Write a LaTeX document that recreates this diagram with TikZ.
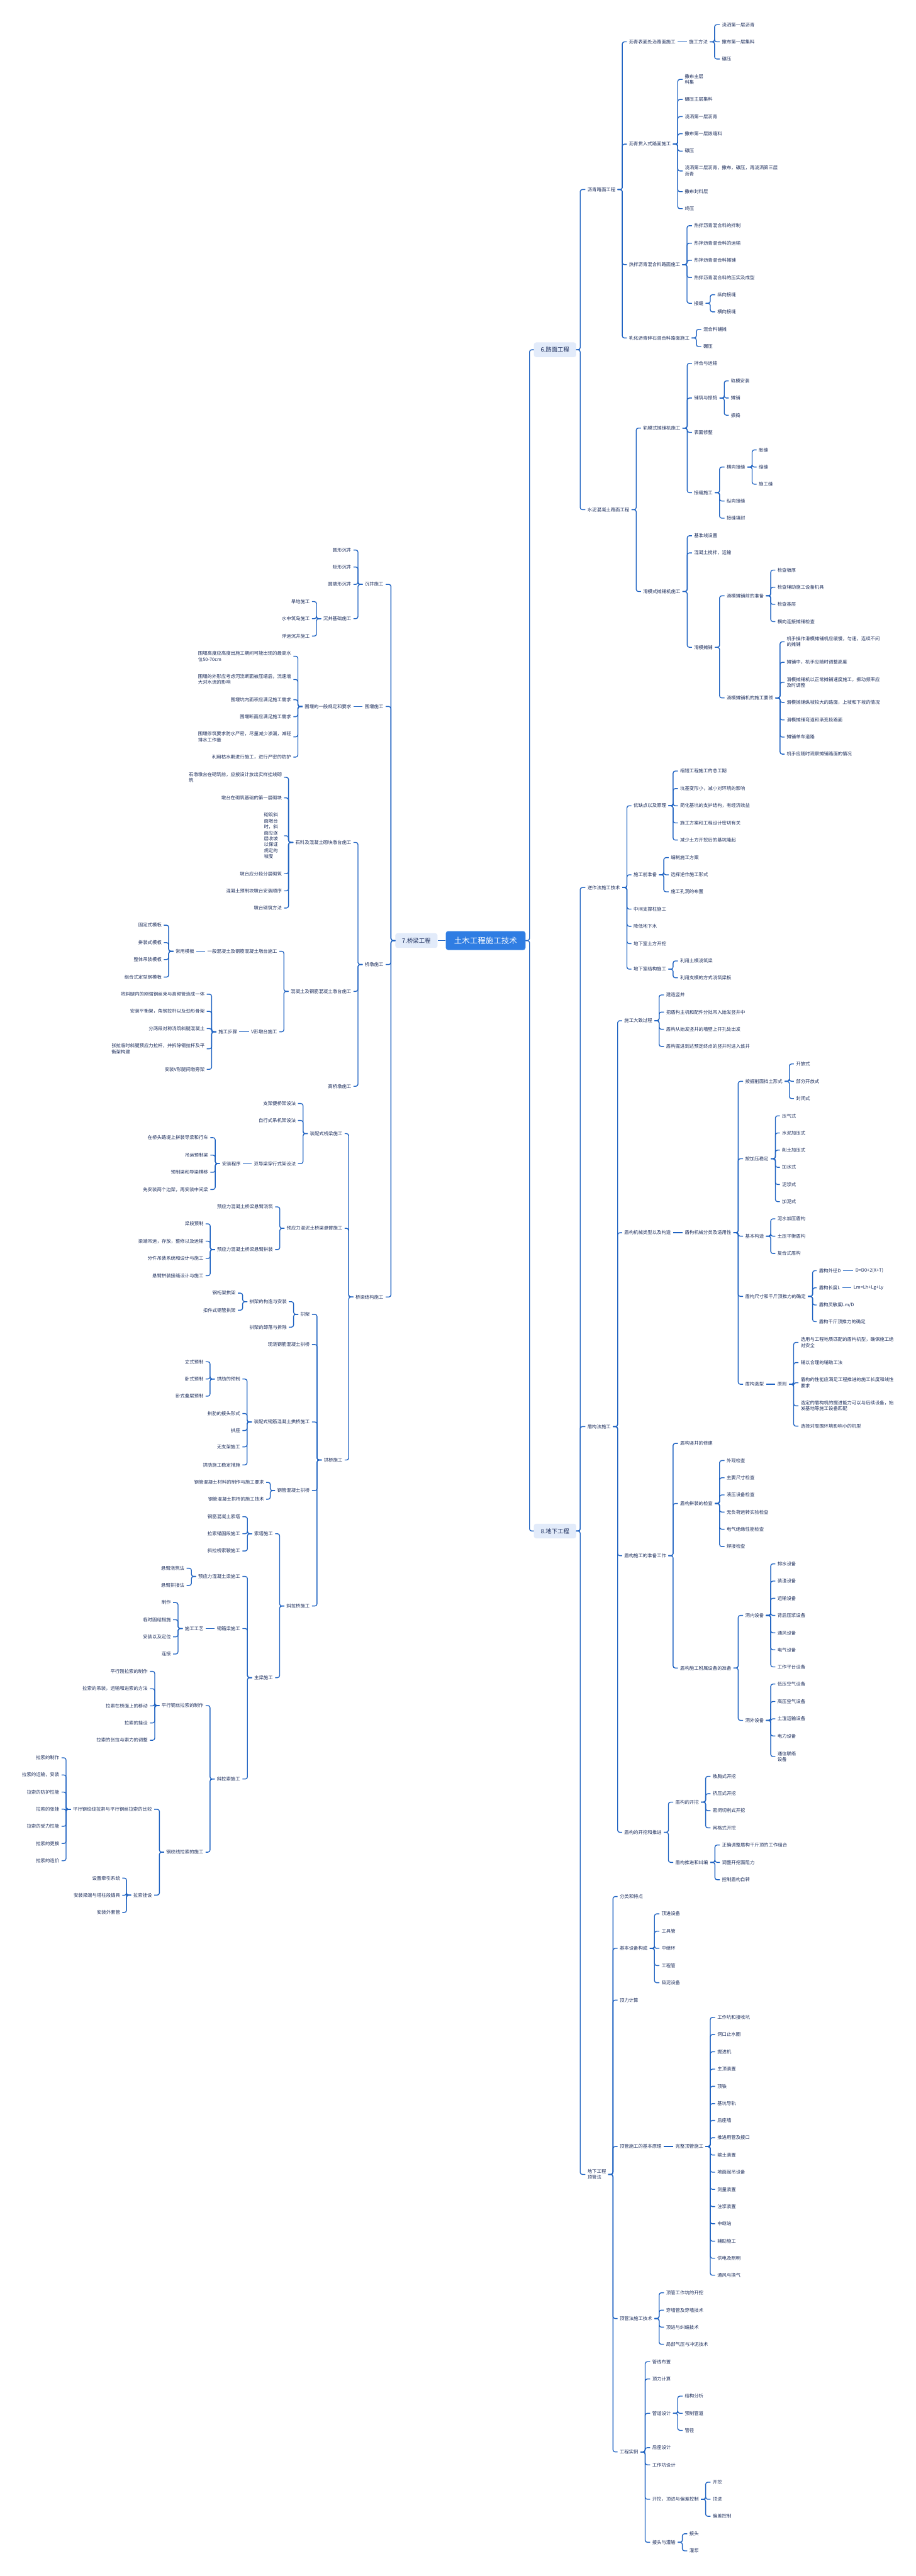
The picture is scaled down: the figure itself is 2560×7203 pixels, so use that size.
\documentclass[tikz,border=0pt]{standalone}
\usepackage{fontspec}
\setmainfont{Noto Sans CJK SC}
\definecolor{linkblue}{HTML}{1F63C2}
\definecolor{txtblue}{HTML}{1C2D5C}
\definecolor{rootblue}{HTML}{2F7DE3}
\definecolor{mainfill}{HTML}{E2EBFA}

\begin{document}
\begin{tikzpicture}[x=1pt, y=-1pt,
    txt/.style={inner xsep=6pt, inner ysep=1pt, text=txtblue, align=left, font=\fontsize{13}{16.5}\selectfont},
    rt/.style={txt, anchor=west, xshift=-6pt},
    lt/.style={txt, anchor=east, xshift=6pt},
    root/.style={fill=rootblue, text=white, rounded corners=7pt, minimum width=223pt, minimum height=53pt, font=\fontsize{22}{26}\selectfont},
    main/.style={fill=mainfill, text=txtblue, rounded corners=6pt, minimum width=118pt, minimum height=41pt, font=\fontsize{16.5}{20}\selectfont},
    link/.style={draw=linkblue, line width=2.4pt, rounded corners=6pt}]
\fill[white] (0,0) rectangle (2560,7203);
\useasboundingbox (0,0) rectangle (2560,7203);

\node[root] (R) at (1357.5,2630) {土木工程施工技术};
\node[main] (L) at (1551.5,978) {6.路面工程};
\node[main] (Q) at (1164,2630) {7.桥梁工程};
\node[main] (D) at (1551.5,4281) {8.地下工程};

% 6.路面工程
\node[rt] (L_1) at (1642,530) {沥青路面工程};
\node[rt] (L_1_1) at (1758,117) {沥青表面处治路面施工};
\node[rt] (L_1_1_1) at (1926,117) {施工方法};
\node[rt] (L_1_1_1_1) at (2018,69) {浇洒第一层沥青};
\node[rt] (L_1_1_1_2) at (2018,117) {撒布第一层集料};
\node[rt] (L_1_1_1_3) at (2018,165) {碾压};
\node[rt] (L_1_2) at (1758,403) {沥青贯入式路面施工};
\node[rt] (L_1_2_1) at (1914,222) {撒布主层\\料集};
\node[rt] (L_1_2_2) at (1914,278) {碾压主层集料};
\node[rt] (L_1_2_3) at (1914,326) {浇洒第一层沥青};
\node[rt] (L_1_2_4) at (1914,374) {撒布第一层嵌缝料};
\node[rt] (L_1_2_5) at (1914,422.5) {碾压};
\node[rt] (L_1_2_6) at (1914,478) {浇洒第二层沥青，撒布，碾压，再浇洒第三层\\沥青};
\node[rt] (L_1_2_7) at (1914,536) {撒布封料层};
\node[rt] (L_1_2_8) at (1914,583.5) {终压};
\node[rt] (L_1_3) at (1758,740) {热拌沥青混合料路面施工};
\node[rt] (L_1_3_1) at (1940,631) {热拌沥青混合料的拌制};
\node[rt] (L_1_3_2) at (1940,680) {热拌沥青混合料的运输};
\node[rt] (L_1_3_3) at (1940,728) {热拌沥青混合料摊铺};
\node[rt] (L_1_3_4) at (1940,776) {热拌沥青混合料的压实及成型};
\node[rt] (L_1_3_5) at (1940,848) {接缝};
\node[rt] (L_1_3_5_1) at (2005,824) {纵向接缝};
\node[rt] (L_1_3_5_2) at (2005,872) {横向接缝};
\node[rt] (L_1_4) at (1758,945) {乳化沥青碎石混合料路面施工};
\node[rt] (L_1_4_1) at (1966,921) {混合料铺摊};
\node[rt] (L_1_4_2) at (1966,969) {碾压};
\node[rt] (L_2) at (1642,1425) {水泥混凝土路面工程};
\node[rt] (L_2_1) at (1797.5,1197) {轨模式摊铺机施工};
\node[rt] (L_2_1_1) at (1940,1016) {拌合与运输};
\node[rt] (L_2_1_2) at (1940,1113) {铺筑与振捣};
\node[rt] (L_2_1_2_1) at (2043,1065) {轨模安装};
\node[rt] (L_2_1_2_2) at (2043,1113) {摊铺};
\node[rt] (L_2_1_2_3) at (2043,1161) {振捣};
\node[rt] (L_2_1_3) at (1940,1209) {表面修整};
\node[rt] (L_2_1_4) at (1940,1377.5) {接缝施工};
\node[rt] (L_2_1_4_1) at (2031,1306) {横向接缝};
\node[rt] (L_2_1_4_1_1) at (2121,1258) {胀缝};
\node[rt] (L_2_1_4_1_2) at (2121,1306) {缩缝};
\node[rt] (L_2_1_4_1_3) at (2121,1354) {施工缝};
\node[rt] (L_2_1_4_2) at (2031,1401) {纵向接缝};
\node[rt] (L_2_1_4_3) at (2031,1449) {接缝填封};
\node[rt] (L_2_2) at (1797.5,1654) {滑模式摊铺机施工};
\node[rt] (L_2_2_1) at (1940,1498) {基准线设置};
\node[rt] (L_2_2_2) at (1940,1546) {混凝土搅拌，运输};
\node[rt] (L_2_2_3) at (1940,1810) {滑模摊铺};
\node[rt] (L_2_2_3_1) at (2031,1666) {滑模摊铺前的准备};
\node[rt] (L_2_2_3_1_1) at (2173,1594) {检查板厚};
\node[rt] (L_2_2_3_1_2) at (2173,1642) {检查辅助施工设备机具};
\node[rt] (L_2_2_3_1_3) at (2173,1690) {检查基层};
\node[rt] (L_2_2_3_1_4) at (2173,1738) {横向连接摊铺检查};
\node[rt] (L_2_2_3_2) at (2031,1951.5) {滑模摊铺机的施工要领};
\node[rt] (L_2_2_3_2_1) at (2199,1794.5) {机手操作滑模摊铺机应缓慢，匀速，连续不间\\的摊铺};
\node[rt] (L_2_2_3_2_2) at (2199,1852) {摊铺中，机手应随时调整高度};
\node[rt] (L_2_2_3_2_3) at (2199,1908) {滑模摊铺机以正常摊铺速度施工，振动频率应\\及时调整};
\node[rt] (L_2_2_3_2_4) at (2199,1964) {滑模摊铺纵坡较大的路面，上坡和下坡的情况};
\node[rt] (L_2_2_3_2_5) at (2199,2013) {滑模摊铺弯道和渐变段路面};
\node[rt] (L_2_2_3_2_6) at (2199,2061) {摊铺单车道路};
\node[rt] (L_2_2_3_2_7) at (2199,2108.6) {机手应随时观察摊铺路面的情况};

% 8.地下工程
\node[rt] (D_1) at (1642,2481.7) {逆作法施工技术};
\node[rt] (D_1_1) at (1771,2253) {优缺点以及原理};
\node[rt] (D_1_1_1) at (1901,2156) {缩短工程施工的总工期};
\node[rt] (D_1_1_2) at (1901,2205) {坑基变形小，减小对环境的影响};
\node[rt] (D_1_1_3) at (1901,2253) {简化基坑的支护结构，有经济效益};
\node[rt] (D_1_1_4) at (1901,2301) {施工方案和工程设计密切有关};
\node[rt] (D_1_1_5) at (1901,2349) {减少土方开挖后的基坑隆起};
\node[rt] (D_1_2) at (1771,2446) {施工前准备};
\node[rt] (D_1_2_1) at (1875,2398) {编制施工方案};
\node[rt] (D_1_2_2) at (1875,2446) {选择逆作施工形式};
\node[rt] (D_1_2_3) at (1875,2493.6) {施工孔洞的布置};
\node[rt] (D_1_3) at (1771,2542) {中间支撑柱施工};
\node[rt] (D_1_4) at (1771,2590) {降低地下水};
\node[rt] (D_1_5) at (1771,2638.5) {地下室土方开挖};
\node[rt] (D_1_6) at (1771,2710) {地下室结构施工};
\node[rt] (D_1_6_1) at (1901,2687) {利用土模浇筑梁};
\node[rt] (D_1_6_2) at (1901,2734) {利用支模的方式浇筑梁板};
\node[rt] (D_2) at (1642,3989) {盾构法施工};
\node[rt] (D_2_1) at (1745,2854) {施工大致过程};
\node[rt] (D_2_1_1) at (1862,2782) {建造竖井};
\node[rt] (D_2_1_2) at (1862,2830) {把盾构主机和配件分批吊入始发竖井中};
\node[rt] (D_2_1_3) at (1862,2878) {盾构从始发竖井的墙壁上开孔处出发};
\node[rt] (D_2_1_4) at (1862,2926) {盾构掘进到达预定终点的竖井时进入该井};
\node[rt] (D_2_2) at (1745,3447) {盾构机械类型以及构造};
\node[rt] (D_2_2_1) at (1914,3447) {盾构机械分类及适用性};
\node[rt] (D_2_2_1_1) at (2083,3023.5) {按掘削面挡土形式};
\node[rt] (D_2_2_1_1_1) at (2225,2975) {开放式};
\node[rt] (D_2_2_1_1_2) at (2225,3023.5) {部分开放式};
\node[rt] (D_2_2_1_1_3) at (2225,3071.7) {封闭式};
\node[rt] (D_2_2_1_2) at (2083,3240) {按加压稳定};
\node[rt] (D_2_2_1_2_1) at (2186,3120) {压气式};
\node[rt] (D_2_2_1_2_2) at (2186,3168) {水泥加压式};
\node[rt] (D_2_2_1_2_3) at (2186,3216) {削土加压式};
\node[rt] (D_2_2_1_2_4) at (2186,3264) {加水式};
\node[rt] (D_2_2_1_2_5) at (2186,3312) {泥浆式};
\node[rt] (D_2_2_1_2_6) at (2186,3360) {加泥式};
\node[rt] (D_2_2_1_3) at (2083,3456.6) {基本构造};
\node[rt] (D_2_2_1_3_1) at (2173,3408) {泥水加压盾构};
\node[rt] (D_2_2_1_3_2) at (2173,3456.6) {土压平衡盾构};
\node[rt] (D_2_2_1_3_3) at (2173,3505) {复合式盾构};
\node[rt] (D_2_2_1_4) at (2083,3625) {盾构尺寸和千斤顶推力的确定};
\node[rt] (D_2_2_1_4_1) at (2289,3553) {盾构外径D};
\node[rt] (D_2_2_1_4_1_1) at (2391,3553) {D=D0+2(X+T)};
\node[rt] (D_2_2_1_4_2) at (2289,3601) {盾构长度L};
\node[rt] (D_2_2_1_4_2_1) at (2386,3601) {Lm=Lh+Lg+Ly};
\node[rt] (D_2_2_1_4_3) at (2289,3649) {盾构灵敏度Lm/D};
\node[rt] (D_2_2_1_4_4) at (2289,3695.5) {盾构千斤顶推力的确定};
\node[rt] (D_2_2_1_5) at (2083,3870.7) {盾构选型};
\node[rt] (D_2_2_1_5_1) at (2173,3870.7) {原则};
\node[rt] (D_2_2_1_5_1_1) at (2238,3753.6) {选用与工程地质匹配的盾构机型，确保施工绝\\对安全};
\node[rt] (D_2_2_1_5_1_2) at (2238,3810) {辅以合理的辅助工法};
\node[rt] (D_2_2_1_5_1_3) at (2238,3866.5) {盾构的性能应满足工程推进的施工长度和线性\\要求};
\node[rt] (D_2_2_1_5_1_4) at (2238,3931) {选定的盾构机的掘进能力可以与后续设备，始\\发基地等施工设备匹配};
\node[rt] (D_2_2_1_5_1_5) at (2238,3987.7) {选择对周围环境影响小的机型};
\node[rt] (D_2_3) at (1745,4350) {盾构施工的准备工作};
\node[rt] (D_2_3_1) at (1901,4036) {盾构竖井的修建};
\node[rt] (D_2_3_2) at (1901,4204) {盾构拼装的检查};
\node[rt] (D_2_3_2_1) at (2031,4084) {外观检查};
\node[rt] (D_2_3_2_2) at (2031,4132) {主要尺寸检查};
\node[rt] (D_2_3_2_3) at (2031,4180) {液压设备检查};
\node[rt] (D_2_3_2_4) at (2031,4228) {无负荷运转实验检查};
\node[rt] (D_2_3_2_5) at (2031,4276) {电气绝缘性能检查};
\node[rt] (D_2_3_2_6) at (2031,4324.5) {焊接检查};
\node[rt] (D_2_3_3) at (1901,4664) {盾构施工附属设备的准备};
\node[rt] (D_2_3_3_1) at (2083,4517) {洞内设备};
\node[rt] (D_2_3_3_1_1) at (2173,4372.7) {排水设备};
\node[rt] (D_2_3_3_1_2) at (2173,4421) {装渣设备};
\node[rt] (D_2_3_3_1_3) at (2173,4469) {运输设备};
\node[rt] (D_2_3_3_1_4) at (2173,4517) {背后压浆设备};
\node[rt] (D_2_3_3_1_5) at (2173,4565.6) {通风设备};
\node[rt] (D_2_3_3_1_6) at (2173,4613) {电气设备};
\node[rt] (D_2_3_3_1_7) at (2173,4661) {工作平台设备};
\node[rt] (D_2_3_3_2) at (2083,4810.5) {洞外设备};
\node[rt] (D_2_3_3_2_1) at (2173,4709) {低压空气设备};
\node[rt] (D_2_3_3_2_2) at (2173,4757.6) {高压空气设备};
\node[rt] (D_2_3_3_2_3) at (2173,4806) {土渣运输设备};
\node[rt] (D_2_3_3_2_4) at (2173,4854) {电力设备};
\node[rt] (D_2_3_3_2_5) at (2173,4911.5) {通信联络\\设备};
\node[rt] (D_2_4) at (1745,5123.5) {盾构的开挖和推进};
\node[rt] (D_2_4_1) at (1888,5039) {盾构的开挖};
\node[rt] (D_2_4_1_1) at (1992,4967) {敞胸式开挖};
\node[rt] (D_2_4_1_2) at (1992,5015.6) {挤压式开挖};
\node[rt] (D_2_4_1_3) at (1992,5063) {密闭切削式开挖};
\node[rt] (D_2_4_1_4) at (1992,5111) {网格式开挖};
\node[rt] (D_2_4_2) at (1888,5207.6) {盾构推进和纠编};
\node[rt] (D_2_4_2_1) at (2018,5159) {正确调整盾构千斤顶的工作组合};
\node[rt] (D_2_4_2_2) at (2018,5207.6) {调整开挖面阻力};
\node[rt] (D_2_4_2_3) at (2018,5256) {控制盾构自转};
\node[rt] (D_3) at (1642,6080) {地下工程\\顶管法};
\node[rt] (D_3_1) at (1732,5303) {分类和特点};
\node[rt] (D_3_2) at (1732,5448) {基本设备构成};
\node[rt] (D_3_2_1) at (1849,5351.5) {顶进设备};
\node[rt] (D_3_2_2) at (1849,5400) {工具管};
\node[rt] (D_3_2_3) at (1849,5448) {中继环};
\node[rt] (D_3_2_4) at (1849,5496) {工程管};
\node[rt] (D_3_2_5) at (1849,5544) {吸泥设备};
\node[rt] (D_3_3) at (1732,5592.6) {顶力计算};
\node[rt] (D_3_4) at (1732,6002) {顶管施工的基本原理};
\node[rt] (D_3_4_1) at (1888,6002) {完整顶管施工};
\node[rt] (D_3_4_1_1) at (2005,5641) {工作坑和接收坑};
\node[rt] (D_3_4_1_2) at (2005,5689) {洞口止水圈};
\node[rt] (D_3_4_1_3) at (2005,5737) {掘进机};
\node[rt] (D_3_4_1_4) at (2005,5785.5) {主顶装置};
\node[rt] (D_3_4_1_5) at (2005,5833.7) {顶铁};
\node[rt] (D_3_4_1_6) at (2005,5882) {基坑导轨};
\node[rt] (D_3_4_1_7) at (2005,5929) {后座墙};
\node[rt] (D_3_4_1_8) at (2005,5977.5) {推进用管及接口};
\node[rt] (D_3_4_1_9) at (2005,6025.7) {输土装置};
\node[rt] (D_3_4_1_10) at (2005,6074) {地面起吊设备};
\node[rt] (D_3_4_1_11) at (2005,6121.8) {测量装置};
\node[rt] (D_3_4_1_12) at (2005,6170) {注浆装置};
\node[rt] (D_3_4_1_13) at (2005,6218) {中继站};
\node[rt] (D_3_4_1_14) at (2005,6266.7) {辅助施工};
\node[rt] (D_3_4_1_15) at (2005,6314.5) {供电及照明};
\node[rt] (D_3_4_1_16) at (2005,6362) {通风与换气};
\node[rt] (D_3_5) at (1732,6483) {顶管法施工技术};
\node[rt] (D_3_5_1) at (1862,6411) {顶管工作坑的开挖};
\node[rt] (D_3_5_2) at (1862,6459.4) {穿墙管及穿墙技术};
\node[rt] (D_3_5_3) at (1862,6507) {顶进与纠编技术};
\node[rt] (D_3_5_4) at (1862,6555) {局部气压与冲泥技术};
\node[rt] (D_3_6) at (1732,6856) {工程实例};
\node[rt] (D_3_6_1) at (1823,6603.6) {管线布置};
\node[rt] (D_3_6_2) at (1823,6652) {顶力计算};
\node[rt] (D_3_6_3) at (1823,6748) {管道设计};
\node[rt] (D_3_6_3_1) at (1914,6700) {结构分析};
\node[rt] (D_3_6_3_2) at (1914,6748) {预制管道};
\node[rt] (D_3_6_3_3) at (1914,6795.7) {管径};
\node[rt] (D_3_6_4) at (1823,6844) {后座设计};
\node[rt] (D_3_6_5) at (1823,6892) {工作坑设计};
\node[rt] (D_3_6_6) at (1823,6988.4) {开挖，顶进与偏差控制};
\node[rt] (D_3_6_6_1) at (1992,6940.6) {开挖};
\node[rt] (D_3_6_6_2) at (1992,6988.4) {顶进};
\node[rt] (D_3_6_6_3) at (1992,7036) {偏差控制};
\node[rt] (D_3_6_7) at (1823,7108.7) {接头与灌输};
\node[rt] (D_3_6_7_1) at (1927,7084.8) {接头};
\node[rt] (D_3_6_7_2) at (1927,7132.6) {灌浆};

% 7.桥梁工程
\node[lt] (Q_1) at (1072,1634) {沉井施工};
\node[lt] (Q_1_1) at (982,1538) {圆形沉井};
\node[lt] (Q_1_2) at (982,1585.5) {矩形沉井};
\node[lt] (Q_1_3) at (982,1634) {圆端形沉井};
\node[lt] (Q_1_4) at (982,1730) {沉井基础施工};
\node[lt] (Q_1_4_1) at (866,1682) {旱地施工};
\node[lt] (Q_1_4_2) at (866,1730) {水中筑岛施工};
\node[lt] (Q_1_4_3) at (866,1778.6) {浮运沉井施工};
\node[lt] (Q_2) at (1072,1975.5) {围堰施工};
\node[lt] (Q_2_1) at (982,1975.5) {围堰的一般规定和要求};
\node[lt] (Q_2_1_1) at (814,1835) {围堰高度应高度出施工期间可能出现的最高水\\位50-70cm};
\node[lt] (Q_2_1_2) at (814,1900) {围堰的外形应考虑河流断面被压缩后，流速增\\大对水流的影响};
\node[lt] (Q_2_1_3) at (814,1956.5) {围堰坑内面积应满足施工需求};
\node[lt] (Q_2_1_4) at (814,2004) {围堰断面应满足施工需求};
\node[lt] (Q_2_1_5) at (814,2060.5) {围堰修筑要求防水严密，尽量减少渗漏，减轻\\排水工作量};
\node[lt] (Q_2_1_6) at (814,2117) {利用枯水期进行施工，进行严密的防护};
\node[lt] (Q_3) at (1072,2697) {桥墩施工};
\node[lt] (Q_3_1) at (982,2355.5) {石料及混凝土砌块墩台施工};
\node[lt] (Q_3_1_1) at (788,2173.6) {石墩墩台在砌筑前，应按设计放出实样挂线砌\\筑};
\node[lt] (Q_3_1_2) at (788,2231) {墩台在砌筑基础的第一层砌块};
\node[lt, text width=50pt] (Q_3_1_3) at (788,2337) {砌筑斜\\面墩台\\时，斜\\面应逐\\层收坡\\以保证\\规定的\\坡度};
\node[lt] (Q_3_1_4) at (788,2443) {墩台应分段分层砌筑};
\node[lt] (Q_3_1_5) at (788,2491) {混凝土预制块墩台安装顺序};
\node[lt] (Q_3_1_6) at (788,2539) {墩台砌筑方法};
\node[lt] (Q_3_2) at (982,2772) {混凝土及钢筋混凝土墩台施工};
\node[lt] (Q_3_2_1) at (775,2660) {一般混凝土及钢筋混凝土墩台施工};
\node[lt] (Q_3_2_1_1) at (543,2660) {常用模板};
\node[lt] (Q_3_2_1_1_1) at (452,2587) {固定式模板};
\node[lt] (Q_3_2_1_1_2) at (452,2635.7) {拼装式模板};
\node[lt] (Q_3_2_1_1_3) at (452,2683) {整体吊装模板};
\node[lt] (Q_3_2_1_1_4) at (452,2732) {组合式定型钢模板};
\node[lt] (Q_3_2_2) at (775,2885) {V形墩台施工};
\node[lt] (Q_3_2_2_1) at (663,2885) {施工步骤};
\node[lt] (Q_3_2_2_1_1) at (572,2780) {将斜腿内的刚强钢丝束与高频管连成一体};
\node[lt] (Q_3_2_2_1_2) at (572,2828) {安装平衡架，角钢拉杆以及劲形骨架};
\node[lt] (Q_3_2_2_1_3) at (572,2876) {分两段对称浇筑斜腿混凝土};
\node[lt] (Q_3_2_2_1_4) at (572,2932.5) {张拉临时斜腿预应力拉杆，并拆除钢拉杆及平\\衡架构建};
\node[lt] (Q_3_2_2_1_5) at (572,2990) {安装V形腿间墩旁架};
\node[lt] (Q_3_3) at (982,3037.4) {高桥墩施工};
\node[lt] (Q_4) at (1072,3626.6) {桥梁结构施工};
\node[lt] (Q_4_1) at (957.5,3169.7) {装配式桥梁施工};
\node[lt] (Q_4_1_1) at (827,3085.6) {支架便桥架设法};
\node[lt] (Q_4_1_2) at (827,3133) {自行式吊机架设法};
\node[lt] (Q_4_1_3) at (827,3253.7) {双导梁穿行式架设法};
\node[lt] (Q_4_1_3_1) at (673,3253.7) {安装程序};
\node[lt] (Q_4_1_3_1_1) at (582,3181) {在桥头路堤上拼装导梁和行车};
\node[lt] (Q_4_1_3_1_2) at (582,3230) {吊运预制梁};
\node[lt] (Q_4_1_3_1_3) at (582,3278) {预制梁和导梁横移};
\node[lt] (Q_4_1_3_1_4) at (582,3326) {先安装两个边架，再安装中间梁};
\node[lt] (Q_4_2) at (957.5,3434.7) {预应力混泥土桥梁悬臂施工};
\node[lt] (Q_4_2_1) at (763,3374.6) {预应力混凝土桥梁悬臂浇筑};
\node[lt] (Q_4_2_2) at (763,3494) {预应力混凝土桥梁悬臂拼装};
\node[lt] (Q_4_2_2_1) at (569,3422) {梁段预制};
\node[lt] (Q_4_2_2_2) at (569,3470.5) {梁端吊运，存放，整修以及运输};
\node[lt] (Q_4_2_2_3) at (569,3518.8) {分件吊装系统和设计与施工};
\node[lt] (Q_4_2_2_4) at (569,3567) {悬臂拼装接缝设计与施工};
\node[lt] (Q_4_3) at (957.5,4082.5) {拱桥施工};
\node[lt] (Q_4_3_1) at (866,3675) {拱架};
\node[lt] (Q_4_3_1_1) at (801.6,3639.6) {拱架的构造与安装};
\node[lt] (Q_4_3_1_1_1) at (659,3615.8) {钢桁架拱架};
\node[lt] (Q_4_3_1_1_2) at (659,3663.5) {扣件式钢管拱架};
\node[lt] (Q_4_3_1_2) at (801.6,3711) {拱架的卸落与拆除};
\node[lt] (Q_4_3_2) at (866,3759.5) {现浇钢筋混凝土拱桥};
\node[lt] (Q_4_3_3) at (866,3976) {装配式钢筋混凝土拱桥施工};
\node[lt] (Q_4_3_3_1) at (671.5,3856) {拱肋的预制};
\node[lt] (Q_4_3_3_1_1) at (569,3807.7) {立式预制};
\node[lt] (Q_4_3_3_1_2) at (569,3856) {卧式预制};
\node[lt] (Q_4_3_3_1_3) at (569,3904) {卧式叠层预制};
\node[lt] (Q_4_3_3_2) at (671.5,3952.4) {拱肋的接头形式};
\node[lt] (Q_4_3_3_3) at (671.5,4000) {拱座};
\node[lt] (Q_4_3_3_4) at (671.5,4045.7) {无支架施工};
\node[lt] (Q_4_3_3_5) at (671.5,4096) {拱肋施工稳定措施};
\node[lt] (Q_4_3_4) at (866,4168) {钢管混凝土拱桥};
\node[lt] (Q_4_3_4_1) at (738,4145) {钢管混凝土材料的制作与施工要求};
\node[lt] (Q_4_3_4_2) at (738,4192) {钢管混凝土拱桥的施工技术};
\node[lt] (Q_4_3_5) at (866,4490.7) {斜拉桥施工};
\node[lt] (Q_4_3_5_1) at (763,4288.5) {索塔施工};
\node[lt] (Q_4_3_5_1_1) at (671.5,4241) {钢筋混凝土索塔};
\node[lt] (Q_4_3_5_1_2) at (671.5,4288.5) {拉索锚固段施工};
\node[lt] (Q_4_3_5_1_3) at (671.5,4336.8) {斜拉桥索鞍施工};
\node[lt] (Q_4_3_5_2) at (763,4691) {主梁施工};
\node[lt] (Q_4_3_5_2_1) at (671.5,4408) {预应力混凝土梁施工};
\node[lt] (Q_4_3_5_2_1_1) at (515.6,4385) {悬臂浇筑法};
\node[lt] (Q_4_3_5_2_1_2) at (515.6,4433) {悬臂拼接法};
\node[lt] (Q_4_3_5_2_2) at (671.5,4553.6) {钢箱梁施工};
\node[lt] (Q_4_3_5_2_2_1) at (569,4553.6) {施工工艺};
\node[lt] (Q_4_3_5_2_2_1_1) at (478,4481) {制作};
\node[lt] (Q_4_3_5_2_2_1_2) at (478,4529) {临时固结措施};
\node[lt] (Q_4_3_5_2_2_1_3) at (478,4577) {安装以及定位};
\node[lt] (Q_4_3_5_2_2_1_4) at (478,4625) {连接};
\node[lt] (Q_4_3_5_2_3) at (671.5,4974.5) {斜拉索施工};
\node[lt] (Q_4_3_5_2_3_1) at (569,4769) {平行钢丝拉索的制作};
\node[lt] (Q_4_3_5_2_3_1_1) at (413,4673.4) {平行刚拉索的制作};
\node[lt] (Q_4_3_5_2_3_1_2) at (413,4722) {拉索的吊装，运输和进索的方法};
\node[lt] (Q_4_3_5_2_3_1_3) at (413,4770) {拉索在桥面上的移动};
\node[lt] (Q_4_3_5_2_3_1_4) at (413,4817.6) {拉索的挂设};
\node[lt] (Q_4_3_5_2_3_1_5) at (413,4866) {拉索的张拉与索力的调整};
\node[lt] (Q_4_3_5_2_3_2) at (569,5179) {钢绞线拉索的施工};
\node[lt] (Q_4_3_5_2_3_2_1) at (425,5059) {平行钢绞线拉索与平行钢丝拉索的比较};
\node[lt] (Q_4_3_5_2_3_2_1_1) at (166,4915) {拉索的制作};
\node[lt] (Q_4_3_5_2_3_2_1_2) at (166,4963) {拉索的运输，安装};
\node[lt] (Q_4_3_5_2_3_2_1_3) at (166,5011) {拉索的防护性能};
\node[lt] (Q_4_3_5_2_3_2_1_4) at (166,5058.7) {拉索的张挂};
\node[lt] (Q_4_3_5_2_3_2_1_5) at (166,5106.6) {拉索的受力性能};
\node[lt] (Q_4_3_5_2_3_2_1_6) at (166,5154.6) {拉索的更换};
\node[lt] (Q_4_3_5_2_3_2_1_7) at (166,5203) {拉索的造价};
\node[lt] (Q_4_3_5_2_3_2_2) at (425,5299) {拉索挂设};
\node[lt] (Q_4_3_5_2_3_2_2_1) at (336,5251.5) {设置牵引系统};
\node[lt] (Q_4_3_5_2_3_2_2_2) at (336,5299.5) {安装梁端与塔柱段锚具};
\node[lt] (Q_4_3_5_2_3_2_2_3) at (336,5347.5) {安装外套管};

% connectors, right side
\draw[link] (R.west) -- (Q.east);
\foreach \c in {L,D} \draw[link] (R.east) -- ++(11pt,0) |- (\c.west);
\foreach \i in {1,2} \draw[link] (L.east) -- ++(11pt,0) |- (L_\i.west);
\foreach \i in {1,...,4} \draw[link] (L_1.east) -- ++(13pt,0) |- (L_1_\i.west);
\draw[link] (L_1_1.east) -- (L_1_1_1.west);
\foreach \i in {1,2,3} \draw[link] (L_1_1_1.east) -- ++(13pt,0) |- (L_1_1_1_\i.west);
\foreach \i in {1,...,8} \draw[link] (L_1_2.east) -- ++(13pt,0) |- (L_1_2_\i.west);
\foreach \i in {1,...,5} \draw[link] (L_1_3.east) -- ++(13pt,0) |- (L_1_3_\i.west);
\foreach \i in {1,2} \draw[link] (L_1_3_5.east) -- ++(13pt,0) |- (L_1_3_5_\i.west);
\foreach \i in {1,2} \draw[link] (L_1_4.east) -- ++(13pt,0) |- (L_1_4_\i.west);
\foreach \i in {1,2} \draw[link] (L_2.east) -- ++(13pt,0) |- (L_2_\i.west);
\foreach \i in {1,...,4} \draw[link] (L_2_1.east) -- ++(13pt,0) |- (L_2_1_\i.west);
\foreach \i in {1,2,3} \draw[link] (L_2_1_2.east) -- ++(13pt,0) |- (L_2_1_2_\i.west);
\foreach \i in {1,2,3} \draw[link] (L_2_1_4.east) -- ++(13pt,0) |- (L_2_1_4_\i.west);
\foreach \i in {1,2,3} \draw[link] (L_2_1_4_1.east) -- ++(13pt,0) |- (L_2_1_4_1_\i.west);
\foreach \i in {1,2,3} \draw[link] (L_2_2.east) -- ++(13pt,0) |- (L_2_2_\i.west);
\foreach \i in {1,2} \draw[link] (L_2_2_3.east) -- ++(13pt,0) |- (L_2_2_3_\i.west);
\foreach \i in {1,...,4} \draw[link] (L_2_2_3_1.east) -- ++(13pt,0) |- (L_2_2_3_1_\i.west);
\foreach \i in {1,...,7} \draw[link] (L_2_2_3_2.east) -- ++(13pt,0) |- (L_2_2_3_2_\i.west);
\foreach \i in {1,2,3} \draw[link] (D.east) -- ++(11pt,0) |- (D_\i.west);
\foreach \i in {1,...,6} \draw[link] (D_1.east) -- ++(13pt,0) |- (D_1_\i.west);
\foreach \i in {1,...,5} \draw[link] (D_1_1.east) -- ++(13pt,0) |- (D_1_1_\i.west);
\foreach \i in {1,2,3} \draw[link] (D_1_2.east) -- ++(13pt,0) |- (D_1_2_\i.west);
\foreach \i in {1,2} \draw[link] (D_1_6.east) -- ++(13pt,0) |- (D_1_6_\i.west);
\foreach \i in {1,...,4} \draw[link] (D_2.east) -- ++(13pt,0) |- (D_2_\i.west);
\foreach \i in {1,...,4} \draw[link] (D_2_1.east) -- ++(13pt,0) |- (D_2_1_\i.west);
\draw[link] (D_2_2.east) -- (D_2_2_1.west);
\foreach \i in {1,...,5} \draw[link] (D_2_2_1.east) -- ++(13pt,0) |- (D_2_2_1_\i.west);
\foreach \i in {1,2,3} \draw[link] (D_2_2_1_1.east) -- ++(13pt,0) |- (D_2_2_1_1_\i.west);
\foreach \i in {1,...,6} \draw[link] (D_2_2_1_2.east) -- ++(13pt,0) |- (D_2_2_1_2_\i.west);
\foreach \i in {1,2,3} \draw[link] (D_2_2_1_3.east) -- ++(13pt,0) |- (D_2_2_1_3_\i.west);
\foreach \i in {1,...,4} \draw[link] (D_2_2_1_4.east) -- ++(13pt,0) |- (D_2_2_1_4_\i.west);
\draw[link] (D_2_2_1_4_1.east) -- (D_2_2_1_4_1_1.west);
\draw[link] (D_2_2_1_4_2.east) -- (D_2_2_1_4_2_1.west);
\draw[link] (D_2_2_1_5.east) -- (D_2_2_1_5_1.west);
\foreach \i in {1,...,5} \draw[link] (D_2_2_1_5_1.east) -- ++(13pt,0) |- (D_2_2_1_5_1_\i.west);
\foreach \i in {1,2,3} \draw[link] (D_2_3.east) -- ++(13pt,0) |- (D_2_3_\i.west);
\foreach \i in {1,...,6} \draw[link] (D_2_3_2.east) -- ++(13pt,0) |- (D_2_3_2_\i.west);
\foreach \i in {1,2} \draw[link] (D_2_3_3.east) -- ++(13pt,0) |- (D_2_3_3_\i.west);
\foreach \i in {1,...,7} \draw[link] (D_2_3_3_1.east) -- ++(13pt,0) |- (D_2_3_3_1_\i.west);
\foreach \i in {1,...,5} \draw[link] (D_2_3_3_2.east) -- ++(13pt,0) |- (D_2_3_3_2_\i.west);
\foreach \i in {1,2} \draw[link] (D_2_4.east) -- ++(13pt,0) |- (D_2_4_\i.west);
\foreach \i in {1,...,4} \draw[link] (D_2_4_1.east) -- ++(13pt,0) |- (D_2_4_1_\i.west);
\foreach \i in {1,2,3} \draw[link] (D_2_4_2.east) -- ++(13pt,0) |- (D_2_4_2_\i.west);
\foreach \i in {1,...,6} \draw[link] (D_3.east) -- ++(13pt,0) |- (D_3_\i.west);
\foreach \i in {1,...,5} \draw[link] (D_3_2.east) -- ++(13pt,0) |- (D_3_2_\i.west);
\draw[link] (D_3_4.east) -- (D_3_4_1.west);
\foreach \i in {1,...,16} \draw[link] (D_3_4_1.east) -- ++(13pt,0) |- (D_3_4_1_\i.west);
\foreach \i in {1,...,4} \draw[link] (D_3_5.east) -- ++(13pt,0) |- (D_3_5_\i.west);
\foreach \i in {1,...,7} \draw[link] (D_3_6.east) -- ++(13pt,0) |- (D_3_6_\i.west);
\foreach \i in {1,2,3} \draw[link] (D_3_6_3.east) -- ++(13pt,0) |- (D_3_6_3_\i.west);
\foreach \i in {1,2,3} \draw[link] (D_3_6_6.east) -- ++(13pt,0) |- (D_3_6_6_\i.west);
\foreach \i in {1,2} \draw[link] (D_3_6_7.east) -- ++(13pt,0) |- (D_3_6_7_\i.west);

% connectors, left side
\foreach \i in {1,...,4} \draw[link] (Q.west) -- ++(-12pt,0) |- (Q_\i.east);
\foreach \i in {1,...,4} \draw[link] (Q_1.west) -- ++(-13pt,0) |- (Q_1_\i.east);
\foreach \i in {1,2,3} \draw[link] (Q_1_4.west) -- ++(-13pt,0) |- (Q_1_4_\i.east);
\draw[link] (Q_2.west) -- (Q_2_1.east);
\foreach \i in {1,...,6} \draw[link] (Q_2_1.west) -- ++(-13pt,0) |- (Q_2_1_\i.east);
\foreach \i in {1,2,3} \draw[link] (Q_3.west) -- ++(-13pt,0) |- (Q_3_\i.east);
\foreach \i in {1,...,6} \draw[link] (Q_3_1.west) -- ++(-13pt,0) |- (Q_3_1_\i.east);
\foreach \i in {1,2} \draw[link] (Q_3_2.west) -- ++(-13pt,0) |- (Q_3_2_\i.east);
\draw[link] (Q_3_2_1.west) -- (Q_3_2_1_1.east);
\foreach \i in {1,...,4} \draw[link] (Q_3_2_1_1.west) -- ++(-13pt,0) |- (Q_3_2_1_1_\i.east);
\draw[link] (Q_3_2_2.west) -- (Q_3_2_2_1.east);
\foreach \i in {1,...,5} \draw[link] (Q_3_2_2_1.west) -- ++(-13pt,0) |- (Q_3_2_2_1_\i.east);
\foreach \i in {1,2,3} \draw[link] (Q_4.west) -- ++(-13pt,0) |- (Q_4_\i.east);
\foreach \i in {1,2,3} \draw[link] (Q_4_1.west) -- ++(-13pt,0) |- (Q_4_1_\i.east);
\draw[link] (Q_4_1_3.west) -- (Q_4_1_3_1.east);
\foreach \i in {1,...,4} \draw[link] (Q_4_1_3_1.west) -- ++(-13pt,0) |- (Q_4_1_3_1_\i.east);
\foreach \i in {1,2} \draw[link] (Q_4_2.west) -- ++(-13pt,0) |- (Q_4_2_\i.east);
\foreach \i in {1,...,4} \draw[link] (Q_4_2_2.west) -- ++(-13pt,0) |- (Q_4_2_2_\i.east);
\foreach \i in {1,...,5} \draw[link] (Q_4_3.west) -- ++(-13pt,0) |- (Q_4_3_\i.east);
\foreach \i in {1,2} \draw[link] (Q_4_3_1.west) -- ++(-13pt,0) |- (Q_4_3_1_\i.east);
\foreach \i in {1,2} \draw[link] (Q_4_3_1_1.west) -- ++(-13pt,0) |- (Q_4_3_1_1_\i.east);
\foreach \i in {1,...,5} \draw[link] (Q_4_3_3.west) -- ++(-13pt,0) |- (Q_4_3_3_\i.east);
\foreach \i in {1,2,3} \draw[link] (Q_4_3_3_1.west) -- ++(-13pt,0) |- (Q_4_3_3_1_\i.east);
\foreach \i in {1,2} \draw[link] (Q_4_3_4.west) -- ++(-13pt,0) |- (Q_4_3_4_\i.east);
\foreach \i in {1,2} \draw[link] (Q_4_3_5.west) -- ++(-13pt,0) |- (Q_4_3_5_\i.east);
\foreach \i in {1,2,3} \draw[link] (Q_4_3_5_1.west) -- ++(-13pt,0) |- (Q_4_3_5_1_\i.east);
\foreach \i in {1,2,3} \draw[link] (Q_4_3_5_2.west) -- ++(-13pt,0) |- (Q_4_3_5_2_\i.east);
\foreach \i in {1,2} \draw[link] (Q_4_3_5_2_1.west) -- ++(-13pt,0) |- (Q_4_3_5_2_1_\i.east);
\draw[link] (Q_4_3_5_2_2.west) -- (Q_4_3_5_2_2_1.east);
\foreach \i in {1,...,4} \draw[link] (Q_4_3_5_2_2_1.west) -- ++(-13pt,0) |- (Q_4_3_5_2_2_1_\i.east);
\foreach \i in {1,2} \draw[link] (Q_4_3_5_2_3.west) -- ++(-13pt,0) |- (Q_4_3_5_2_3_\i.east);
\foreach \i in {1,...,5} \draw[link] (Q_4_3_5_2_3_1.west) -- ++(-13pt,0) |- (Q_4_3_5_2_3_1_\i.east);
\foreach \i in {1,2} \draw[link] (Q_4_3_5_2_3_2.west) -- ++(-13pt,0) |- (Q_4_3_5_2_3_2_\i.east);
\foreach \i in {1,...,7} \draw[link] (Q_4_3_5_2_3_2_1.west) -- ++(-13pt,0) |- (Q_4_3_5_2_3_2_1_\i.east);
\foreach \i in {1,2,3} \draw[link] (Q_4_3_5_2_3_2_2.west) -- ++(-13pt,0) |- (Q_4_3_5_2_3_2_2_\i.east);
\end{tikzpicture}
\end{document}
